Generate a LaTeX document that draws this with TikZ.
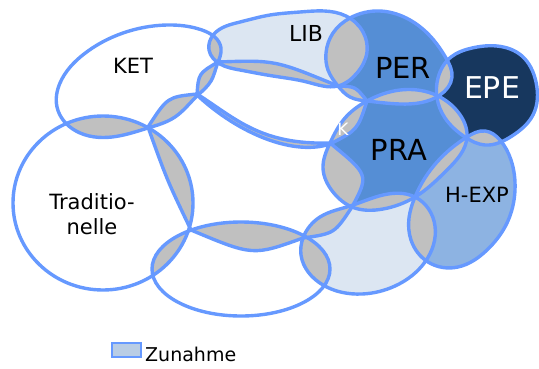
\documentclass[tikz,border=0pt]{standalone}
\usepackage{fontspec}
\setmainfont{DejaVu Sans}
\usetikzlibrary{hobby}
\definecolor{edgeblue}{RGB}{102,153,255}
\definecolor{lensgray}{RGB}{192,192,192}
\definecolor{paleblue}{RGB}{220,230,242}
\definecolor{midblue}{RGB}{85,142,213}
\definecolor{softblue}{RGB}{141,179,226}
\definecolor{navy}{RGB}{23,55,94}
\definecolor{legendfill}{RGB}{185,205,229}
\def\shKET{plot[closed hobby] coordinates {(57,107) (60,83) (84,54) (123,33) (167,25) (202,30) (221,48) (217,65) (211,81) (197,96) (175,117) (148,128) (112,137) (76,131)}}
\def\shLIB{plot[closed hobby] coordinates {(209,50) (214,34) (240,22) (270,15) (300,12) (346,16) (363,32) (367,52) (357,73) (338,86) (307,82) (273,76) (240,70) (220,64)}}
\def\shPER{plot[closed hobby] coordinates {(326,53) (333,33) (350,18) (380,11) (410,20) (431,37) (446,58) (452,77) (440,95) (400,104) (367,101) (350,97) (338,86) (328,70)}}
\def\shEPE{plot[closed hobby] coordinates {(438,78) (451,57) (472,48) (497,46) (522,56) (536,82) (533,115) (512,136) (485,145) (465,137) (445,118) (437,98)}}
\def\shPRA{plot[closed hobby] coordinates {(367,101) (400,90) (438,96) (458,112) (467,137) (447,170) (415,197) (383,209) (352,207) (333,192) (323,168) (330,143) (345,118)}}
\def\shHEXP{plot[closed hobby] coordinates {(415,197) (437,162) (467,137) (485,131) (500,140) (511,160) (515,190) (507,223) (487,250) (458,267) (428,262) (411,240) (409,218)}}
\def\shPale{plot[closed hobby] coordinates {(303,238) (320,217) (350,206) (383,195) (415,197) (435,226) (425,262) (395,286) (362,294) (323,285) (301,255)}}
\def\shTrad{(103,203) ellipse (90pt and 87pt)}
\def\shLow{(241,269) ellipse (89pt and 47pt)}
\def\shK{(197,95) .. controls (198.5,73.5) .. (218,62) .. controls (275,60) .. (338,86) .. controls (355.5,86.5) .. (367,101) .. controls (357.5,130) .. (330,144) .. controls (295,156) and (240,135) .. (197,95) -- cycle}
\def\shCore{(148,127) .. controls (167.5,97) .. (197,94) .. controls (235,118) and (260,145) .. (330,143) .. controls (369,175) .. (352,207) .. controls (334.5,233.5) .. (303,238) .. controls (253,256) .. (191,230) .. controls (167,180) .. (148,127) -- cycle}
\def\lens#1#2{\begin{scope}\clip #1;\fill[lensgray] #2;\end{scope}}

\begin{document}
\begin{tikzpicture}[x=1pt,y=-1pt]
		\useasboundingbox (0,0) rectangle (539,368);
		%%%%% START %%%%%
		
		\fill[paleblue] \shLIB;
		\fill[paleblue] \shPale;
		\fill[midblue] \shPER;
		\fill[midblue] \shPRA;
		\fill[softblue] \shHEXP;
		\fill[navy] \shEPE;
		
		\lens{\shKET}{\shTrad}
		\lens{\shKET}{\shLIB}
		\lens{\shKET}{\shCore}
		\lens{\shKET}{\shK}
		\lens{\shTrad}{\shCore}
		\lens{\shTrad}{\shLow}
		\lens{\shLow}{\shCore}
		\lens{\shLow}{\shPale}
		\lens{\shPale}{\shCore}
		\lens{\shPale}{\shPRA}
		\lens{\shPale}{\shHEXP}
		\lens{\shHEXP}{\shPRA}
		\lens{\shHEXP}{\shEPE}
		\lens{\shPRA}{\shEPE}
		\lens{\shPRA}{\shPER}
		\lens{\shPRA}{\shCore}
		\lens{\shPRA}{\shK}
		\lens{\shPER}{\shEPE}
		\lens{\shPER}{\shLIB}
		\lens{\shPER}{\shK}
		\lens{\shLIB}{\shK}
		\lens{\shCore}{\shK}
		
		\draw[edgeblue, line width=3.4pt] \shKET;
		\draw[edgeblue, line width=3.4pt] \shTrad;
		\draw[edgeblue, line width=3.4pt] \shLow;
		\draw[edgeblue, line width=3.4pt] \shCore;
		\draw[edgeblue, line width=3.4pt] \shK;
		\draw[edgeblue, line width=3.4pt] \shLIB;
		\draw[edgeblue, line width=3.4pt] \shPale;
		\draw[edgeblue, line width=3.4pt] \shHEXP;
		\draw[edgeblue, line width=3.4pt] \shPRA;
		\draw[edgeblue, line width=3.4pt] \shEPE;
		\draw[edgeblue, line width=3.4pt] \shPER;
		
		\node[font=\fontsize{21}{25}\selectfont, inner sep=0] (ket) at (133,66) {KET};
		\node[font=\fontsize{22}{26}\selectfont, inner sep=0] (lib) at (306,33) {LIB};
		\node[font=\fontsize{29}{34}\selectfont, inner sep=0] (per) at (403,68) {PER};
		\node[font=\fontsize{30}{35}\selectfont, inner sep=0, white] (epe) at (492,88) {EPE};
		\node[font=\fontsize{29}{34}\selectfont, inner sep=0] (pra) at (399,150) {PRA};
		\node[font=\fontsize{17}{20}\selectfont, inner sep=0, white] (k) at (343,129) {K};
		\node[font=\fontsize{21}{25}\selectfont, inner sep=0] (hexp) at (477,195) {H-EXP};
		\node[font=\fontsize{21}{25}\selectfont, inner sep=0, align=center] (trad) at (92,214) {Traditio-\\nelle};
		
		\draw[fill=legendfill, draw=edgeblue, line width=2.4pt] (112,343) rectangle (141,357);
		\node[font=\fontsize{19}{23}\selectfont, inner sep=0, anchor=west] (zunahme) at (145,354) {Zunahme};
		
		%%%%% END %%%%%
	\end{tikzpicture}
\end{document}
